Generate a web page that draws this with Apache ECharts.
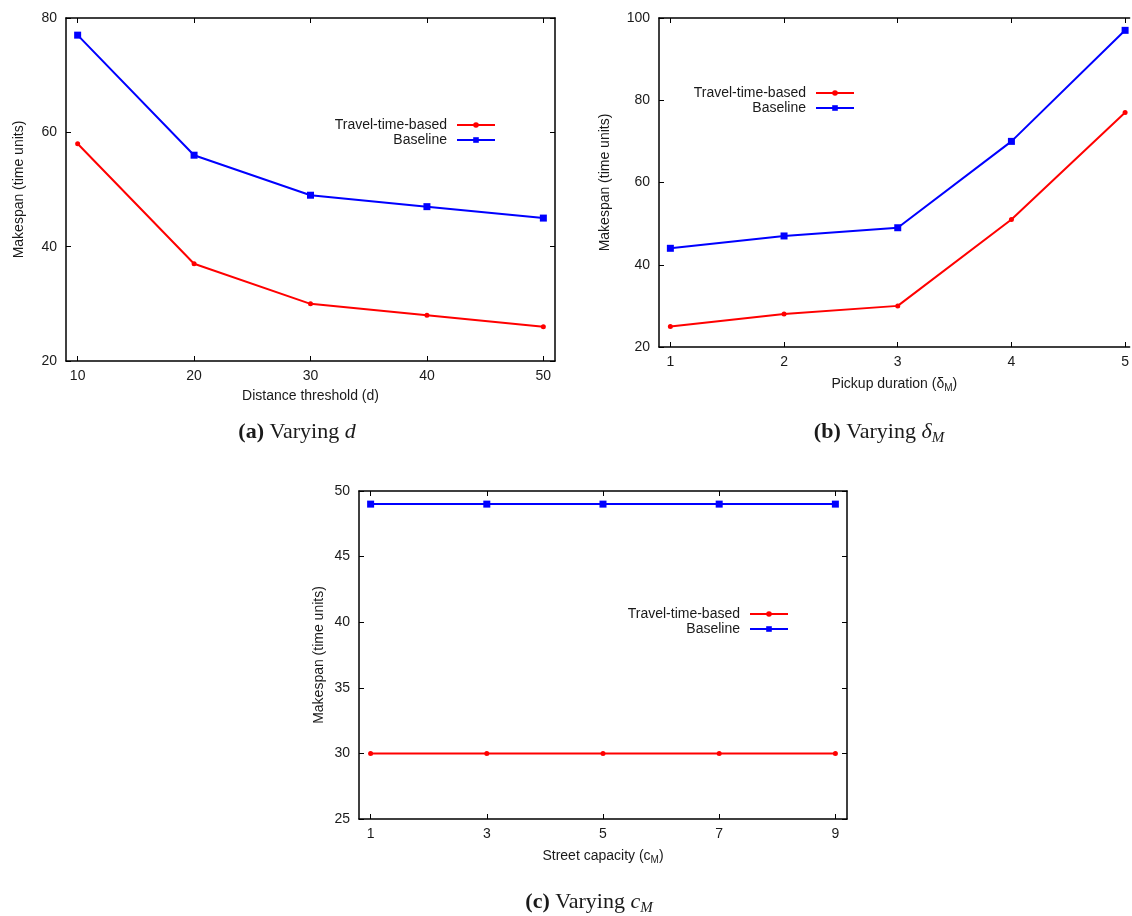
<!DOCTYPE html>
<html>
<head>
<meta charset="utf-8">
<script src="https://cdn.jsdelivr.net/npm/echarts@6.0.0/dist/echarts.min.js"></script>
<style>
html, body { margin: 0; padding: 0; background: #fff; }
#main { width: 1132px; height: 916px; }
</style>
</head>
<body>
<div id="main"></div>
<script>
// data
var seriesNames = ['Travel-time-based', 'Baseline'];

var distanceThresholds = [10, 20, 30, 40, 50];
var travelByDistance = [58, 37, 30, 28, 26];
var baselineByDistance = [77, 56, 49, 47, 45];

var pickupDurations = [1, 2, 3, 4, 5];
var travelByPickup = [25, 28, 30, 51, 77];
var baselineByPickup = [44, 47, 49, 70, 97];

var streetCapacities = [1, 3, 5, 7, 9];
var travelByCapacity = [30, 30, 30, 30, 30];
var baselineByCapacity = [49, 49, 49, 49, 49];

var textColor = '#1a1a1a';
var sansFont = '"Liberation Sans", Arial, sans-serif';
var serifFont = '"Liberation Serif", "Times New Roman", serif';

function pairs(xs, ys) {
	var out = [];
	for (var i = 0; i < xs.length; i++) {
		out.push([xs[i], ys[i]]);
	}
	return out;
}

var subRich = {
	sub: { fontSize: 10, fontFamily: sansFont, color: textColor, padding: [8, 0, 0, 0] }
};

// panel (b) is cut off at the page edge in the original, so no right border there
var panels = [
	{
		grid: { left: 66, top: 18, width: 489, height: 343 },
		xMin: 9, xMax: 51, xTicks: distanceThresholds,
		yMin: 20, yMax: 80, yStep: 20,
		xName: 'Distance threshold (d)', yNameGap: 40, rightBorder: true,
		travel: travelByDistance, baseline: baselineByDistance,
		legendRight: 636, legendTop: 118,
		caption: '{b|(a)} Varying {i|d}', capX: 297, capY: 432
	},
	{
		grid: { left: 659, top: 18, width: 472, height: 329 },
		xMin: 0.9, xMax: 5.04, xTicks: pickupDurations,
		yMin: 20, yMax: 100, yStep: 20,
		xName: 'Pickup duration (δ{sub|M})', yNameGap: 47, rightBorder: false,
		travel: travelByPickup, baseline: baselineByPickup,
		legendRight: 277, legendTop: 86,
		caption: '{b|(b)} Varying {i|δ}{s|M}', capX: 879, capY: 432
	},
	{
		grid: { left: 359, top: 491, width: 488, height: 328 },
		xMin: 0.8, xMax: 9.2, xTicks: streetCapacities,
		yMin: 25, yMax: 50, yStep: 5,
		xName: 'Street capacity (c{sub|M})', yNameGap: 33, rightBorder: true,
		travel: travelByCapacity, baseline: baselineByCapacity,
		legendRight: 343, legendTop: 607,
		caption: '{b|(c)} Varying {i|c}{s|M}', capX: 589, capY: 902
	}
];

var borderLine = { onZero: false, lineStyle: { color: '#000', width: 1.5 } };

var grids = [], xAxes = [], yAxes = [], series = [], legends = [], graphics = [];

for (var k = 0; k < panels.length; k++) {
	var p = panels[k];
	grids.push(p.grid);

	// bottom axis with labels, top one only mirrors the ticks
	xAxes.push({
		type: 'value', gridIndex: k, position: 'bottom',
		min: p.xMin, max: p.xMax,
		axisLine: borderLine,
		axisTick: { inside: true, length: 5, customValues: p.xTicks, lineStyle: { color: '#000' } },
		axisLabel: { customValues: p.xTicks, margin: 8, color: textColor, fontSize: 14, fontFamily: sansFont },
		splitLine: { show: false },
		name: p.xName, nameLocation: 'middle', nameGap: 28,
		nameTextStyle: { color: textColor, fontSize: 14, fontFamily: sansFont, rich: subRich }
	});
	xAxes.push({
		type: 'value', gridIndex: k, position: 'top',
		min: p.xMin, max: p.xMax,
		axisLine: borderLine,
		axisTick: { inside: true, length: 5, customValues: p.xTicks, lineStyle: { color: '#000' } },
		axisLabel: { show: false },
		splitLine: { show: false }
	});
	yAxes.push({
		type: 'value', gridIndex: k, position: 'left',
		min: p.yMin, max: p.yMax, interval: p.yStep,
		axisLine: borderLine,
		axisTick: { inside: true, length: 5, lineStyle: { color: '#000' } },
		axisLabel: { margin: 9, color: textColor, fontSize: 14, fontFamily: sansFont },
		splitLine: { show: false },
		name: 'Makespan (time units)', nameLocation: 'middle', nameGap: p.yNameGap,
		nameTextStyle: { color: textColor, fontSize: 14, fontFamily: sansFont }
	});
	yAxes.push({
		type: 'value', gridIndex: k, position: 'right',
		min: p.yMin, max: p.yMax, interval: p.yStep,
		axisLine: { show: p.rightBorder, onZero: false, lineStyle: { color: '#000', width: 1.5 } },
		axisTick: { show: p.rightBorder, inside: true, length: 5, lineStyle: { color: '#000' } },
		axisLabel: { show: false },
		splitLine: { show: false }
	});

	series.push({
		name: seriesNames[0], type: 'line',
		xAxisIndex: 2 * k, yAxisIndex: 2 * k,
		data: pairs(p.xTicks, p.travel),
		symbol: 'circle', symbolSize: 5,
		lineStyle: { color: '#ff0000', width: 2 },
		itemStyle: { color: '#ff0000' }
	});
	series.push({
		name: seriesNames[1], type: 'line',
		xAxisIndex: 2 * k, yAxisIndex: 2 * k,
		data: pairs(p.xTicks, p.baseline),
		symbol: 'rect', symbolSize: 7,
		lineStyle: { color: '#0000ff', width: 2 },
		itemStyle: { color: '#0000ff' }
	});

	legends.push({
		data: seriesNames, orient: 'vertical', align: 'right',
		right: p.legendRight, top: p.legendTop, padding: 0,
		itemWidth: 38, itemHeight: 7, itemGap: 1,
		selectedMode: false,
		textStyle: { color: textColor, fontSize: 14, fontFamily: sansFont, padding: [0, 5, 0, 0] }
	});

	graphics.push({
		type: 'text', x: p.capX, y: p.capY,
		style: {
			text: p.caption, align: 'center', verticalAlign: 'middle',
			fill: textColor, fontSize: 22, fontFamily: serifFont,
			rich: {
				b: { fontWeight: 'bold', fontSize: 22, fontFamily: serifFont, fill: textColor },
				i: { fontStyle: 'italic', fontSize: 22, fontFamily: serifFont, fill: textColor },
				s: { fontStyle: 'italic', fontSize: 15, fontFamily: serifFont, fill: textColor, padding: [12, 0, 0, 0] }
			}
		}
	});
}

var myChart = echarts.init(document.getElementById('main'));
var option = {
	animation: false,
	backgroundColor: '#fff',
	grid: grids,
	xAxis: xAxes,
	yAxis: yAxes,
	legend: legends,
	series: series,
	graphic: graphics
};
myChart.setOption(option);
</script>
</body>
</html>
